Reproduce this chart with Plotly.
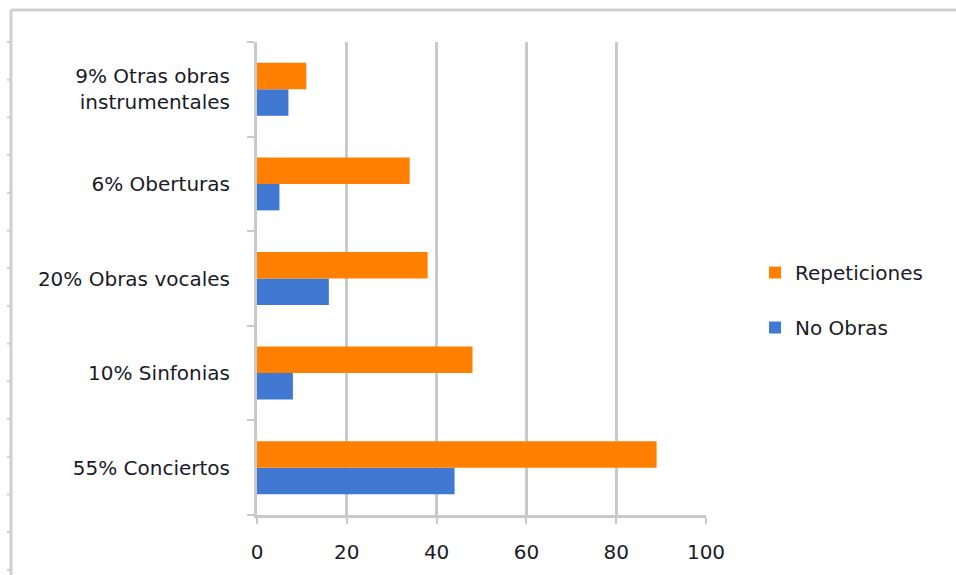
import plotly.graph_objects as go

# Categories (bottom to top) and series values
categorias = [
    "55% Conciertos",
    "10% Sinfonias",
    "20% Obras vocales",
    "6% Oberturas",
    "9% Otras obras<br>instrumentales",
]
no_obras = [44, 8, 16, 5, 7]
repeticiones = [89, 48, 38, 34, 11]
x_ticks = [0, 20, 40, 60, 80, 100]

W, H = 956, 575
L, R, T, B = 257, 250, 42, 60
PW, PH = W - L - R, H - T - B


def px_x(px):
    return (px - L) / PW


def px_y(py):
    return 1 - (py - T) / PH


FONT = "DejaVu Sans"
FSIZE = 20
TXT = "#1a1a28"
GRID = "#c9c9c9"

fig = go.Figure()
fig.add_trace(go.Bar(
    y=categorias, x=no_obras, orientation="h", name="No Obras",
    marker=dict(color="#4179d2", line=dict(width=0)),
    legendgroup="b", legendrank=2,
))
fig.add_trace(go.Bar(
    y=categorias, x=repeticiones, orientation="h", name="Repeticiones",
    marker=dict(color="#ff8000", line=dict(width=0)),
    legendgroup="a", legendrank=1,
))

# outer frame (top and left edges) with its small ruler marks
FRAME = "#cfcfcf"
shapes = [
    dict(type="line", xref="paper", yref="paper",
         x0=px_x(11), x1=px_x(W + 5), y0=px_y(10), y1=px_y(10),
         line=dict(color=FRAME, width=3)),
    dict(type="line", xref="paper", yref="paper",
         x0=px_x(11), x1=px_x(11), y0=px_y(10), y1=px_y(H + 5),
         line=dict(color=FRAME, width=3)),
]
py = 42.0
while py < H:
    shapes.append(dict(type="line", xref="paper", yref="paper",
                       x0=px_x(7), x1=px_x(11), y0=px_y(py), y1=px_y(py),
                       line=dict(color=FRAME, width=2)))
    py += 37.7

fig.update_layout(
    width=W, height=H, autosize=False,
    margin=dict(l=L, r=R, t=T, b=B, pad=0),
    paper_bgcolor="white", plot_bgcolor="white",
    barmode="group", bargap=0.44, bargroupgap=0,
    font=dict(family=FONT, size=FSIZE, color=TXT),
    showlegend=True,
    legend=dict(
        xref="container", yref="container",
        x=755 / W, y=1 - 300 / H, xanchor="left", yanchor="middle",
        font=dict(family=FONT, size=FSIZE, color=TXT),
        tracegroupgap=26, itemwidth=30,
        bgcolor="rgba(0,0,0,0)",
    ),
    shapes=shapes,
    xaxis=dict(
        range=[0, 100], tickvals=x_ticks, ticktext=[str(v) for v in x_ticks],
        showgrid=True, gridcolor=GRID, gridwidth=3,
        showline=True, linecolor=GRID, linewidth=3,
        ticks="outside", ticklen=6, tickwidth=2, tickcolor=GRID,
        ticklabelstandoff=11,
        zeroline=False, fixedrange=True,
        tickfont=dict(family=FONT, size=FSIZE, color=TXT),
    ),
    yaxis=dict(
        type="category", categoryorder="array", categoryarray=categorias,
        showgrid=False, showline=True, linecolor=GRID, linewidth=3,
        ticks="outside", tickson="boundaries", ticklen=7, tickwidth=2,
        tickcolor=GRID, ticklabelstandoff=20,
        zeroline=False, fixedrange=True,
        tickfont=dict(family=FONT, size=FSIZE, color=TXT),
    ),
)

fig.write_html("out.html")
